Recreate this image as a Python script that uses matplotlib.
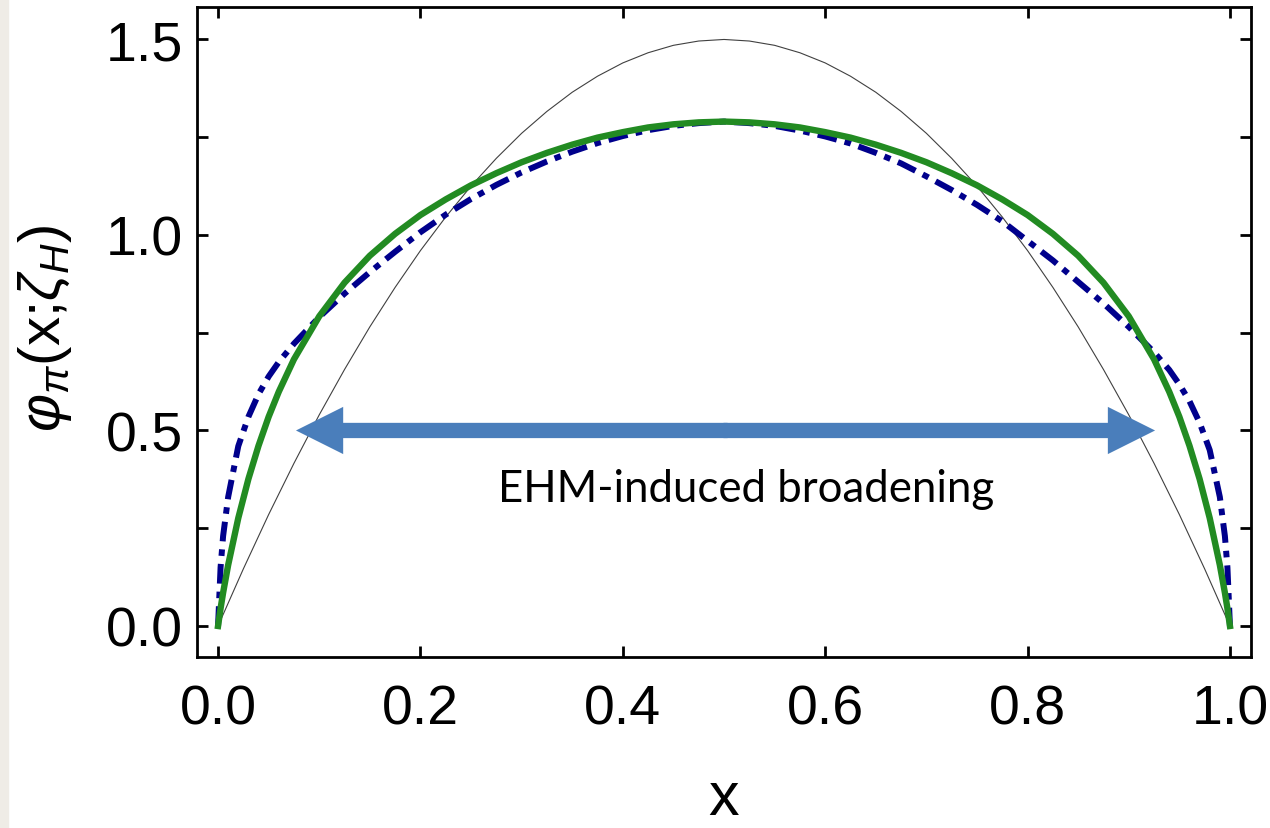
import matplotlib
matplotlib.use("Agg")
import matplotlib.pyplot as plt
from matplotlib.patches import Rectangle

# ---------------------------------------------------------------------------
# Data
# ---------------------------------------------------------------------------

# thin black reference curve
x_black = [0.0, 0.025, 0.05, 0.075, 0.1, 0.125, 0.15, 0.175, 0.2, 0.225,
           0.25, 0.275, 0.3, 0.325, 0.35, 0.375, 0.4, 0.425, 0.45, 0.475,
           0.5, 0.525, 0.55, 0.575, 0.6, 0.625, 0.65, 0.675, 0.7, 0.725,
           0.75, 0.775, 0.8, 0.825, 0.85, 0.875, 0.9, 0.925, 0.95, 0.975, 1.0]
y_black = [0.0, 0.146, 0.285, 0.416, 0.54, 0.656, 0.765, 0.866, 0.96, 1.046,
           1.125, 1.196, 1.26, 1.316, 1.365, 1.406, 1.44, 1.466, 1.485, 1.496,
           1.5, 1.496, 1.485, 1.466, 1.44, 1.406, 1.365, 1.316, 1.26, 1.196,
           1.125, 1.046, 0.96, 0.866, 0.765, 0.656, 0.54, 0.416, 0.285, 0.146, 0.0]

# green (solid) and navy (dash-dot) curves share the same x samples
x_curve = [0.0, 0.0025, 0.005, 0.01, 0.02, 0.03, 0.04, 0.05, 0.06, 0.075, 0.1,
           0.125, 0.15, 0.175, 0.2, 0.225, 0.25, 0.275, 0.3, 0.325, 0.35,
           0.375, 0.4, 0.425, 0.45, 0.475, 0.5, 0.525, 0.55, 0.575, 0.6,
           0.625, 0.65, 0.675, 0.7, 0.725, 0.75, 0.775, 0.8, 0.825, 0.85,
           0.875, 0.9, 0.925, 0.94, 0.95, 0.96, 0.97, 0.98, 0.99, 0.995, 0.9975, 1.0]
y_green = [0.0, 0.045, 0.085, 0.156, 0.276, 0.376, 0.461, 0.535, 0.599, 0.682, 0.792,
           0.878, 0.947, 1.003, 1.051, 1.091, 1.127, 1.158, 1.186, 1.21, 1.231,
           1.249, 1.263, 1.275, 1.283, 1.288, 1.29, 1.288, 1.283, 1.275, 1.263,
           1.249, 1.231, 1.21, 1.186, 1.158, 1.127, 1.091, 1.051, 1.003, 0.947,
           0.878, 0.792, 0.682, 0.599, 0.535, 0.461, 0.376, 0.276, 0.156, 0.085, 0.045, 0.0]
y_blue = [0.0, 0.15, 0.23, 0.33, 0.46, 0.535, 0.593, 0.638, 0.675, 0.722, 0.79,
          0.85, 0.905, 0.957, 1.007, 1.052, 1.092, 1.128, 1.16, 1.188, 1.213,
          1.235, 1.253, 1.268, 1.279, 1.286, 1.29, 1.286, 1.279, 1.267, 1.252,
          1.234, 1.21, 1.183, 1.15, 1.115, 1.077, 1.035, 0.985, 0.935, 0.88,
          0.825, 0.765, 0.7, 0.655, 0.618, 0.575, 0.52, 0.45, 0.33, 0.23, 0.15, 0.0]

x_ticks = [0.0, 0.2, 0.4, 0.6, 0.8, 1.0]
y_ticks = [0.0, 0.5, 1.0, 1.5]
y_minor = [0.25, 0.75, 1.25]

arrow_left, arrow_right, arrow_y = 0.077, 0.926, 0.5
note_text = "EHM-induced broadening"

# ---------------------------------------------------------------------------
# Style
# ---------------------------------------------------------------------------
plt.rcParams["font.family"] = ["Liberation Sans", "DejaVu Sans"]
plt.rcParams["mathtext.fontset"] = "custom"
plt.rcParams["mathtext.rm"] = "Liberation Sans"
plt.rcParams["mathtext.it"] = "Liberation Sans:italic"

fig = plt.figure(figsize=(12.7, 8.29), dpi=100)
fig.patches.append(Rectangle((0, 0), 8 / 1270, 1, transform=fig.transFigure,
                             color="#EFECE6", zorder=0))
ax = fig.add_axes([197 / 1270, 1 - 658 / 829, 1054 / 1270, 650 / 829])

ax.plot(x_black, y_black, color="#404040", lw=0.8, zorder=2)
ax.plot(x_curve, y_blue, color="#00008C", lw=4.3,
        linestyle=(0, (3.3, 1.35, 1.1, 1.35)), dash_capstyle="butt", zorder=3)
ax.plot(x_curve, y_green, color="#228B22", lw=4.6, zorder=4)

# double-headed arrow, drawn as two halves meeting (barely overlapping) in the middle
mid = (arrow_left + arrow_right) / 2
for end, start in ((arrow_left, mid + 0.002), (arrow_right, mid - 0.002)):
    ax.annotate("", xy=(end, arrow_y), xytext=(start, arrow_y),
                arrowprops=dict(arrowstyle="simple,head_length=1.7,head_width=1.7,tail_width=0.55",
                                mutation_scale=20, color="#4A7EBB", lw=0,
                                shrinkA=0, shrinkB=0), zorder=5)

ax.text(0.522, 0.32, note_text, ha="center", va="baseline",
        fontsize=31.5, family=["Lato", "DejaVu Sans"], color="black")

ax.set_xlim(-0.0208, 1.0208)
ax.set_ylim(-0.0793, 1.583)
ax.set_xticks(x_ticks)
ax.set_xticklabels([f"{v:.1f}" for v in x_ticks])
ax.set_yticks(y_ticks)
ax.set_yticklabels([f"{v:.1f}" for v in y_ticks])
ax.set_yticks(y_minor, minor=True)

ax.tick_params(which="both", direction="in", top=True, right=True,
               width=2, length=7.7, color="black")
ax.tick_params(axis="x", labelsize=40, pad=19)
ax.tick_params(axis="y", labelsize=40, pad=10)
for s in ax.spines.values():
    s.set_linewidth(2)

fig.text(45 / 1270, 1 - 328 / 829, r"$\varphi_{\pi}$(x;$\zeta_H$)", rotation=90,
         ha="center", va="center", fontsize=42)
fig.text(724 / 1270, 1 - 800 / 829, "x", ha="center", va="center", fontsize=44)

fig.savefig("out.png", dpi=100)
